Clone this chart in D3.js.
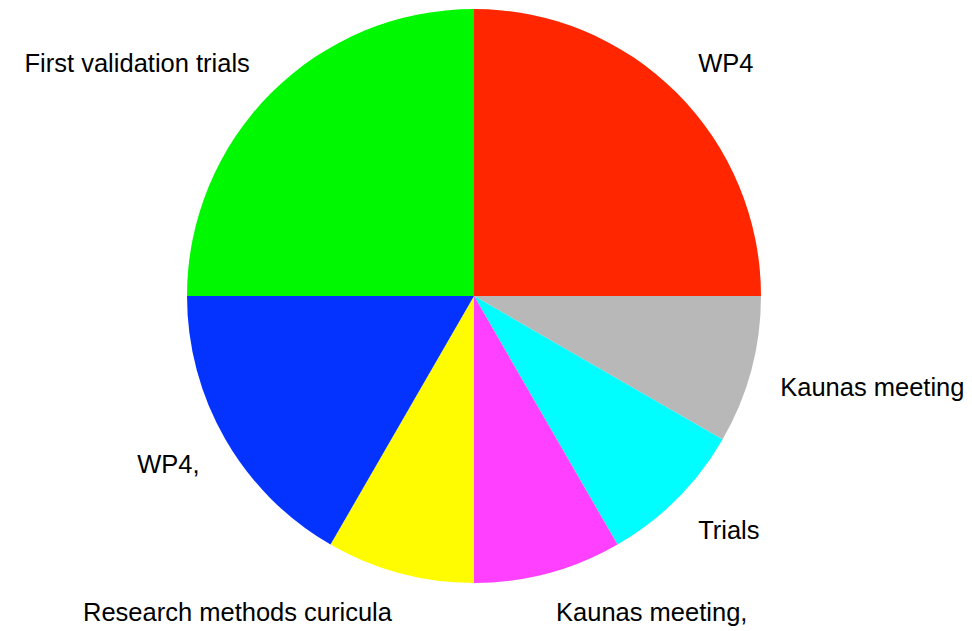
<!DOCTYPE html>
<html>
<head>
<meta charset="utf-8">
<script src="https://cdn.jsdelivr.net/npm/d3@7"></script>
<style>
  html, body { margin: 0; padding: 0; background: #fff; }
  svg { display: block; }
</style>
</head>
<body>
<div id="chart"></div>
<script>
// slices, clockwise from 12 o'clock
const labels = ['WP4', 'Kaunas meeting', 'Trials', 'Kaunas meeting,', 'Research methods curicula', 'WP4,', 'First validation trials'];
const values = [3, 1, 1, 1, 1, 2, 3];
const colors = ['#ff2600', '#b8b8b8', '#00fdff', '#ff40ff', '#fffb00', '#0433ff', '#00f900'];

const width = 972;
const height = 631;
const cx = 474;
const cy = 296;
const radius = 287;
const labelRadius = 317;
const fontSize = 25.5;

const data = labels.map((label, i) => ({ label, value: values[i], color: colors[i] }));

const svg = d3.select('#chart')
    .append('svg')
    .attr('width', width)
    .attr('height', height);

const g = svg.append('g')
    .attr('transform', `translate(${cx},${cy})`);

const pie = d3.pie()
    .sort(null)
    .value(d => d.value);

const arc = d3.arc()
    .innerRadius(0)
    .outerRadius(radius);

const arcs = pie(data);

// slices
g.selectAll('path')
    .data(arcs)
    .enter()
    .append('path')
    .attr('fill', d => d.data.color)
    .attr('d', arc);

// labels: point on mid angle, text hangs off it away from the pie
const labelPos = d => {
    const a = (d.startAngle + d.endAngle) / 2;
    return [Math.sin(a) * labelRadius, -Math.cos(a) * labelRadius];
};

g.selectAll('text')
    .data(arcs)
    .enter()
    .append('text')
    .attr('x', d => labelPos(d)[0])
    .attr('y', d => labelPos(d)[1])
    .attr('dy', d => labelPos(d)[1] > 0 ? fontSize * 0.72 : 0)
    .attr('text-anchor', d => labelPos(d)[0] >= 0 ? 'start' : 'end')
    .style('font-family', '"Liberation Sans", Arial, Helvetica, sans-serif')
    .style('font-size', fontSize + 'px')
    .style('fill', '#000')
    .text(d => d.data.label);
</script>
</body>
</html>
